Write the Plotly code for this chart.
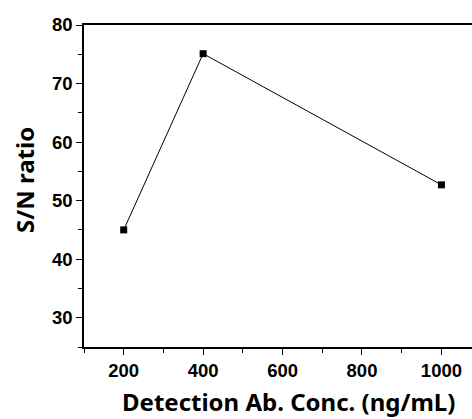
import plotly.graph_objects as go

conc = [200, 400, 1000]
sn_ratio = [45.0, 75.1, 52.7]
x_ticks = [200, 400, 600, 800, 1000]
y_ticks = [30, 40, 50, 60, 70, 80]

W, H = 472, 419
L, R, T, B = 84, 0, 25, 72

fig = go.Figure()
fig.add_trace(go.Scatter(
    x=conc, y=sn_ratio, mode="lines+markers",
    line=dict(color="black", width=1),
    marker=dict(symbol="square", size=7, color="black"),
    showlegend=False,
))

tickfont = dict(family="Liberation Sans, Arial", size=18.5, color="black", weight="bold")
fig.update_xaxes(
    range=[100, 1077], tickvals=x_ticks, showline=True, linecolor="black", linewidth=1.5,
    mirror=True, ticks="outside", ticklen=6, tickwidth=1, tickcolor="black",
    minor=dict(tickvals=[100, 300, 500, 700, 900], ticks="outside", ticklen=4, tickcolor="black"),
    showgrid=False, zeroline=False, tickfont=tickfont,
)
fig.update_yaxes(
    range=[25, 80], tickvals=y_ticks, showline=True, linecolor="black", linewidth=1.5,
    mirror=False, ticks="outside", ticklen=6, tickwidth=1, tickcolor="black",
    minor=dict(tickvals=[25, 35, 45, 55, 65, 75], ticks="outside", ticklen=4, tickcolor="black"),
    showgrid=False, zeroline=False, tickfont=tickfont,
)

titlefont = dict(family="Noto Sans", size=24, color="black", weight="bold")
fig.add_annotation(text="Detection Ab. Conc. (ng/mL)", xref="paper", yref="paper",
                   x=(288 - L) / (W - L - R), y=-(401 - (H - B)) / (H - T - B),
                   xanchor="center", yanchor="middle", showarrow=False, font=titlefont)
fig.add_annotation(text="S/N ratio", xref="paper", yref="paper",
                   x=-(L - 24) / (W - L - R), y=(H - B - 180) / (H - T - B),
                   xanchor="center", yanchor="middle", textangle=-90, showarrow=False, font=titlefont)

fig.update_layout(
    width=W, height=H, margin=dict(l=L, r=R, t=T, b=B),
    plot_bgcolor="white", paper_bgcolor="white",
)
fig.write_html("out.html")
